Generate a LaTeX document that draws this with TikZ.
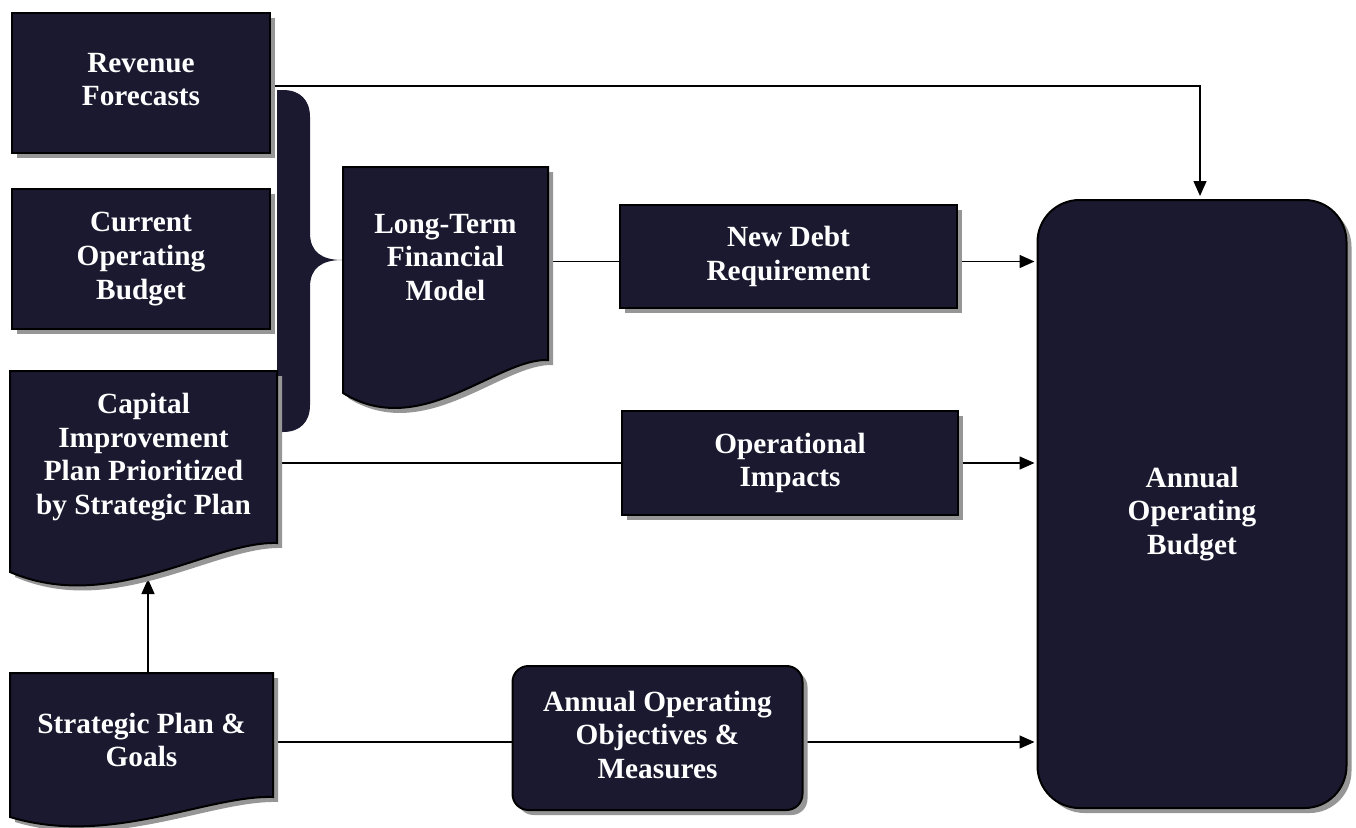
\documentclass[tikz,border=0pt]{standalone}
\usepackage{fontspec}
\setmainfont{Liberation Serif}
\usetikzlibrary{shadows,arrows.meta,calc}
\definecolor{navy}{RGB}{27,25,48}
\definecolor{shade}{RGB}{150,150,150}
\pgfdeclarelayer{bg}
\pgfsetlayers{bg,main}
\begin{document}
\begin{tikzpicture}[x=1pt,y=-1pt,
  shad/.style={drop shadow={shadow xshift=5pt, shadow yshift=-5pt, fill=shade, opacity=1}},
  box/.style={draw=black, line width=2pt, fill=navy, text=white,
    font=\bfseries\fontsize{29.3}{33.7}\selectfont, align=center, inner sep=0pt, shad},
  docbox/.style={draw=black, line width=2pt, fill=navy, shad},
  lbl/.style={text=white, font=\bfseries\fontsize{29.3}{33.7}\selectfont, align=center, inner sep=0pt},
  conn/.style={line width=1.5pt, black},
  arr/.style={conn, -{Triangle[length=15pt,width=13pt]}}
]
\useasboundingbox (0,0) rectangle (1356,827);

% brace
\path[fill=navy] (277,90) -- (283,90) .. controls (300,90) and (310,100) .. (310,117)
  -- (310,233) .. controls (310,252) and (322,260) .. (342,260)
  .. controls (322,260) and (310,268) .. (310,287)
  -- (310,405) .. controls (310,422) and (300,432) .. (283,432) -- (277,432) -- cycle;

% rectangles
\node[box, minimum width=258pt, minimum height=140pt] (rev) at (141,83) {};
\node[lbl] (revt) at (141,79.5) {Revenue\\Forecasts};
\node[box, minimum width=258pt, minimum height=140pt] (cob) at (141,259) {Current\\Operating\\Budget};
\node[box, minimum width=337pt, minimum height=103pt] (ndr) at (788.5,256.5) {New Debt\\Requirement};
\node[box, minimum width=336pt, minimum height=104pt] (oi) at (790,463) {Operational\\Impacts};
\node[box, rounded corners=16pt, minimum width=290pt, minimum height=144pt] (aoom) at (657.5,738) {};
\node[lbl] (aoomt) at (657.5,735) {Annual Operating\\Objectives \&\\Measures};
\node[box, rounded corners=42pt, minimum width=309pt, minimum height=608pt] (aob) at (1192,504) {};
\node[lbl] (aobt) at (1192,514) {Annual\\Operating\\Budget};

% document shapes
\path[docbox] (10,371) -- (277,371) -- (277,543) .. controls (210,541) and (110,615) .. (10,572) -- cycle;
\node[lbl, minimum width=267pt, minimum height=172pt] (cap) at (143.5,457) {Capital\\Improvement\\Plan Prioritized\\by Strategic Plan};

\path[docbox] (343,167) -- (548,167) -- (548,360) .. controls (497,358) and (420,441) .. (343,393) -- cycle;
\node[lbl, minimum width=205pt, minimum height=180pt] (ltfm) at (445.5,257.5) {Long-Term\\Financial\\Model};

\path[docbox] (10,673) -- (273,673) -- (273,797) .. controls (207,795) and (109,847) .. (10,817) -- cycle;
\node[lbl, minimum width=263pt, minimum height=124pt] (strat) at (141.5,740) {Strategic Plan \&\\Goals};

% connectors
\coordinate (lt) at ([yshift=-4pt]ltfm.east);
\coordinate (sa) at ([yshift=-4pt]aoom.west);
\coordinate (capb) at (148,579);
\begin{pgfonlayer}{bg}
\draw[arr] ([yshift=-3pt]rev.east) -| ([xshift=8pt,yshift=3pt]aob.north);
\draw[conn] (lt) -- (ndr.west |- lt);
\draw[arr] (ndr.east |- lt) -- ([xshift=-2pt]aob.west |- lt);
\draw[conn] (cap.east |- oi.west) -- (oi.west);
\draw[arr] (oi.east) -- ([xshift=-2pt]aob.west |- oi.east);
\draw[conn] (strat.east |- sa) -- (sa);
\draw[arr] (aoom.east |- sa) -- ([xshift=-2pt]aob.west |- sa);
\draw[arr] (strat.north -| capb) -- (capb);
\end{pgfonlayer}
\end{tikzpicture}
\end{document}
